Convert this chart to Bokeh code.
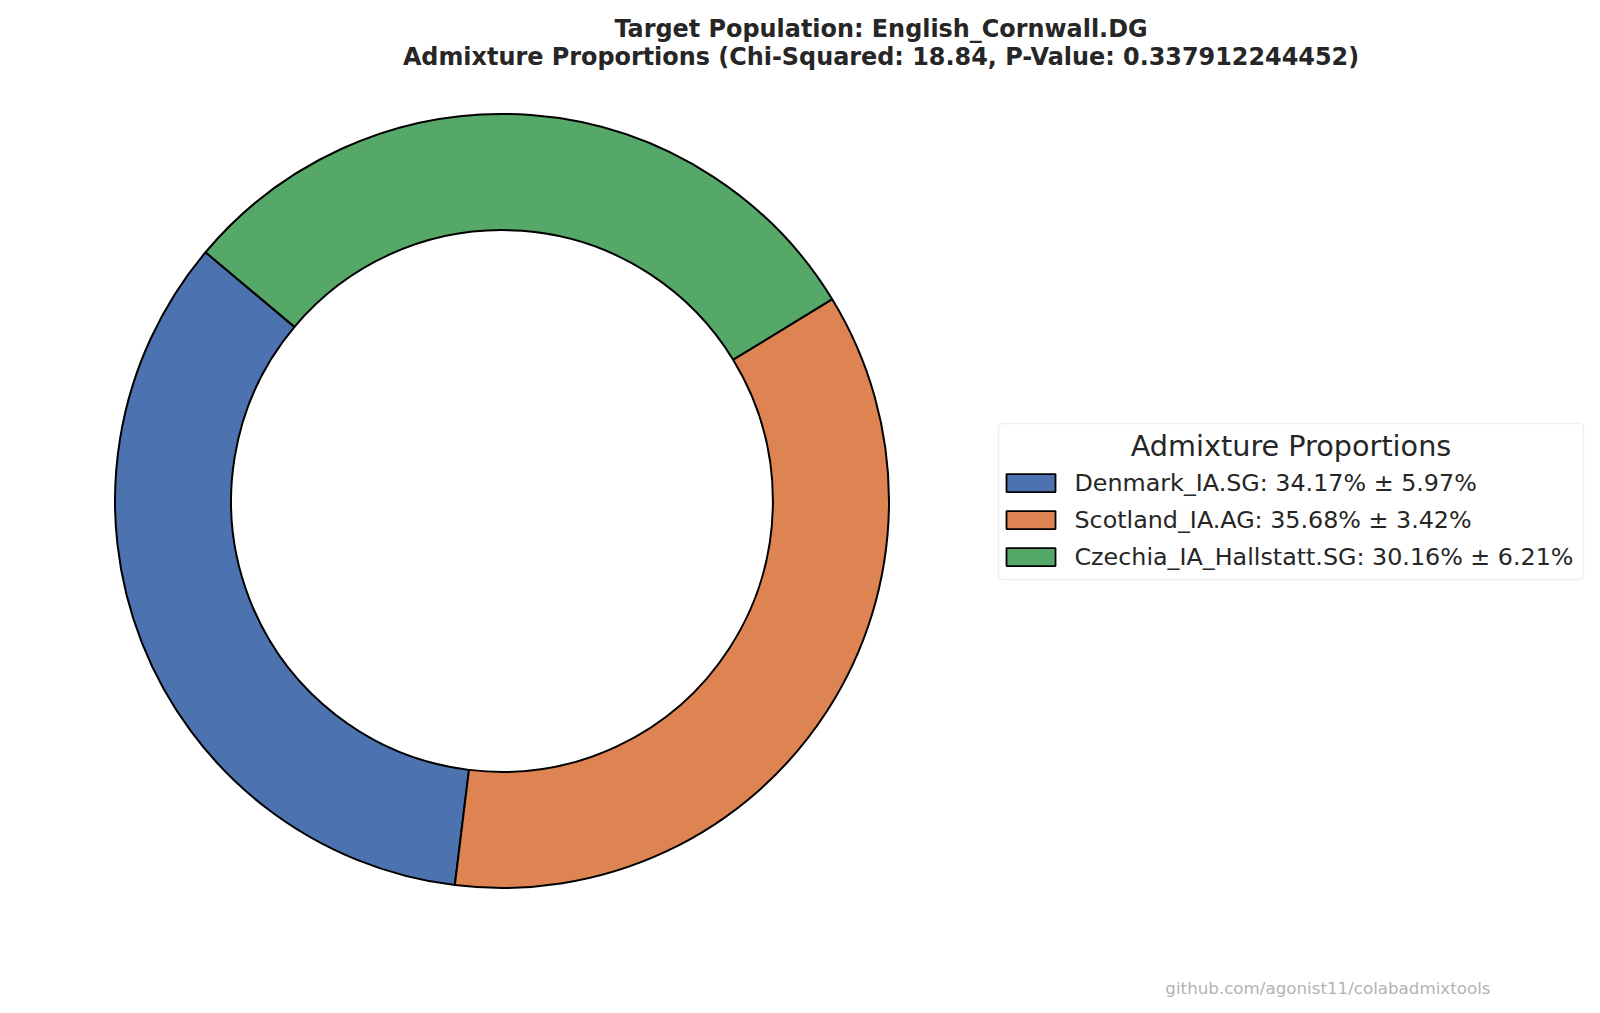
import numpy as np
from bokeh.plotting import figure
from bokeh.models import Range1d, Label, BoxAnnotation, ColumnDataSource
from bokeh.core.properties import value
from bokeh.embed import file_html
from bokeh.resources import INLINE

# ---- data ----
populations = ["Denmark_IA.SG", "Scotland_IA.AG", "Czechia_IA_Hallstatt.SG"]
proportions = [34.17, 35.68, 30.16]
errors = [5.97, 3.42, 6.21]
colors = ["#4C72B0", "#DD8452", "#55A868"]
target = "English_Cornwall.DG"
chi_squared = 18.84
p_value = "0.337912244452"

W, H = 1600, 1013
FONT = "DejaVu Sans"

p = figure(width=W, height=H, x_range=Range1d(0, W), y_range=Range1d(0, H),
           output_backend="svg", toolbar_location=None, min_border=0)
p.axis.visible = False
p.grid.visible = False
p.outline_line_color = None
p.background_fill_color = "white"
p.border_fill_color = "white"

# ---- donut ----
fr = np.array(proportions) / np.sum(proportions)
start0 = np.deg2rad(140)
cum = np.concatenate([[0], np.cumsum(fr)]) * 2 * np.pi
starts = start0 + cum[:-1]
ends = start0 + cum[1:]
cx, cy = 501.5, H - 500.5
R = 387.0
src = ColumnDataSource(dict(start=starts, end=ends, color=colors))
p.annular_wedge(x=cx, y=cy, inner_radius=R * 0.7, outer_radius=R,
                start_angle="start", end_angle="end", fill_color="color",
                line_color="black", line_width=2, source=src)

# ---- title ----
p.add_layout(Label(x=880.5, y=H - 28, text=f"Target Population: {target}",
                   text_font=FONT, text_font_size="23.9px", text_font_style="bold",
                   text_align="center", text_baseline="middle", text_color="#262626"))
p.add_layout(Label(x=880.5, y=H - 56.5,
                   text=f"Admixture Proportions (Chi-Squared: {chi_squared:.2f}, P-Value: {p_value})",
                   text_font=FONT, text_font_size="23.9px", text_font_style="bold",
                   text_align="center", text_baseline="middle", text_color="#262626"))

# ---- legend ----
p.add_layout(BoxAnnotation(left=998, right=1583, top=H - 423, bottom=H - 579,
                           fill_color="white", fill_alpha=1.0, line_color="#cccccc",
                           line_width=1.5, border_radius=4, level="underlay"))
p.add_layout(Label(x=1290.5, y=H - 445, text="Admixture Proportions",
                   text_font=FONT, text_font_size="28.7px",
                   text_align="center", text_baseline="middle", text_color="#262626"))
labels = [f"{n}: {v:.2f}% ± {e:.2f}%" for n, v, e in zip(populations, proportions, errors)]
row_y = [H - 482.6, H - 519.6, H - 556.6]
lsrc = ColumnDataSource(dict(y=row_y, label=labels, color=colors))
p.rect(x=1030.5, y="y", width=49, height=18, fill_color="color", line_color="black",
       line_width=1.8, source=lsrc)
p.text(x=1074, y="y", text="label", text_font=value(FONT), text_font_size="23.8px",
       text_align="left", text_baseline="middle", text_color="#262626", source=lsrc)

# ---- watermark ----
p.add_layout(Label(x=1490, y=H - 987, text="github.com/agonist11/colabadmixtools",
                   text_font=FONT, text_font_size="16.7px", text_align="right",
                   text_baseline="middle", text_color="#b3b3b3"))

open("out.html", "w").write(file_html(p, INLINE))
